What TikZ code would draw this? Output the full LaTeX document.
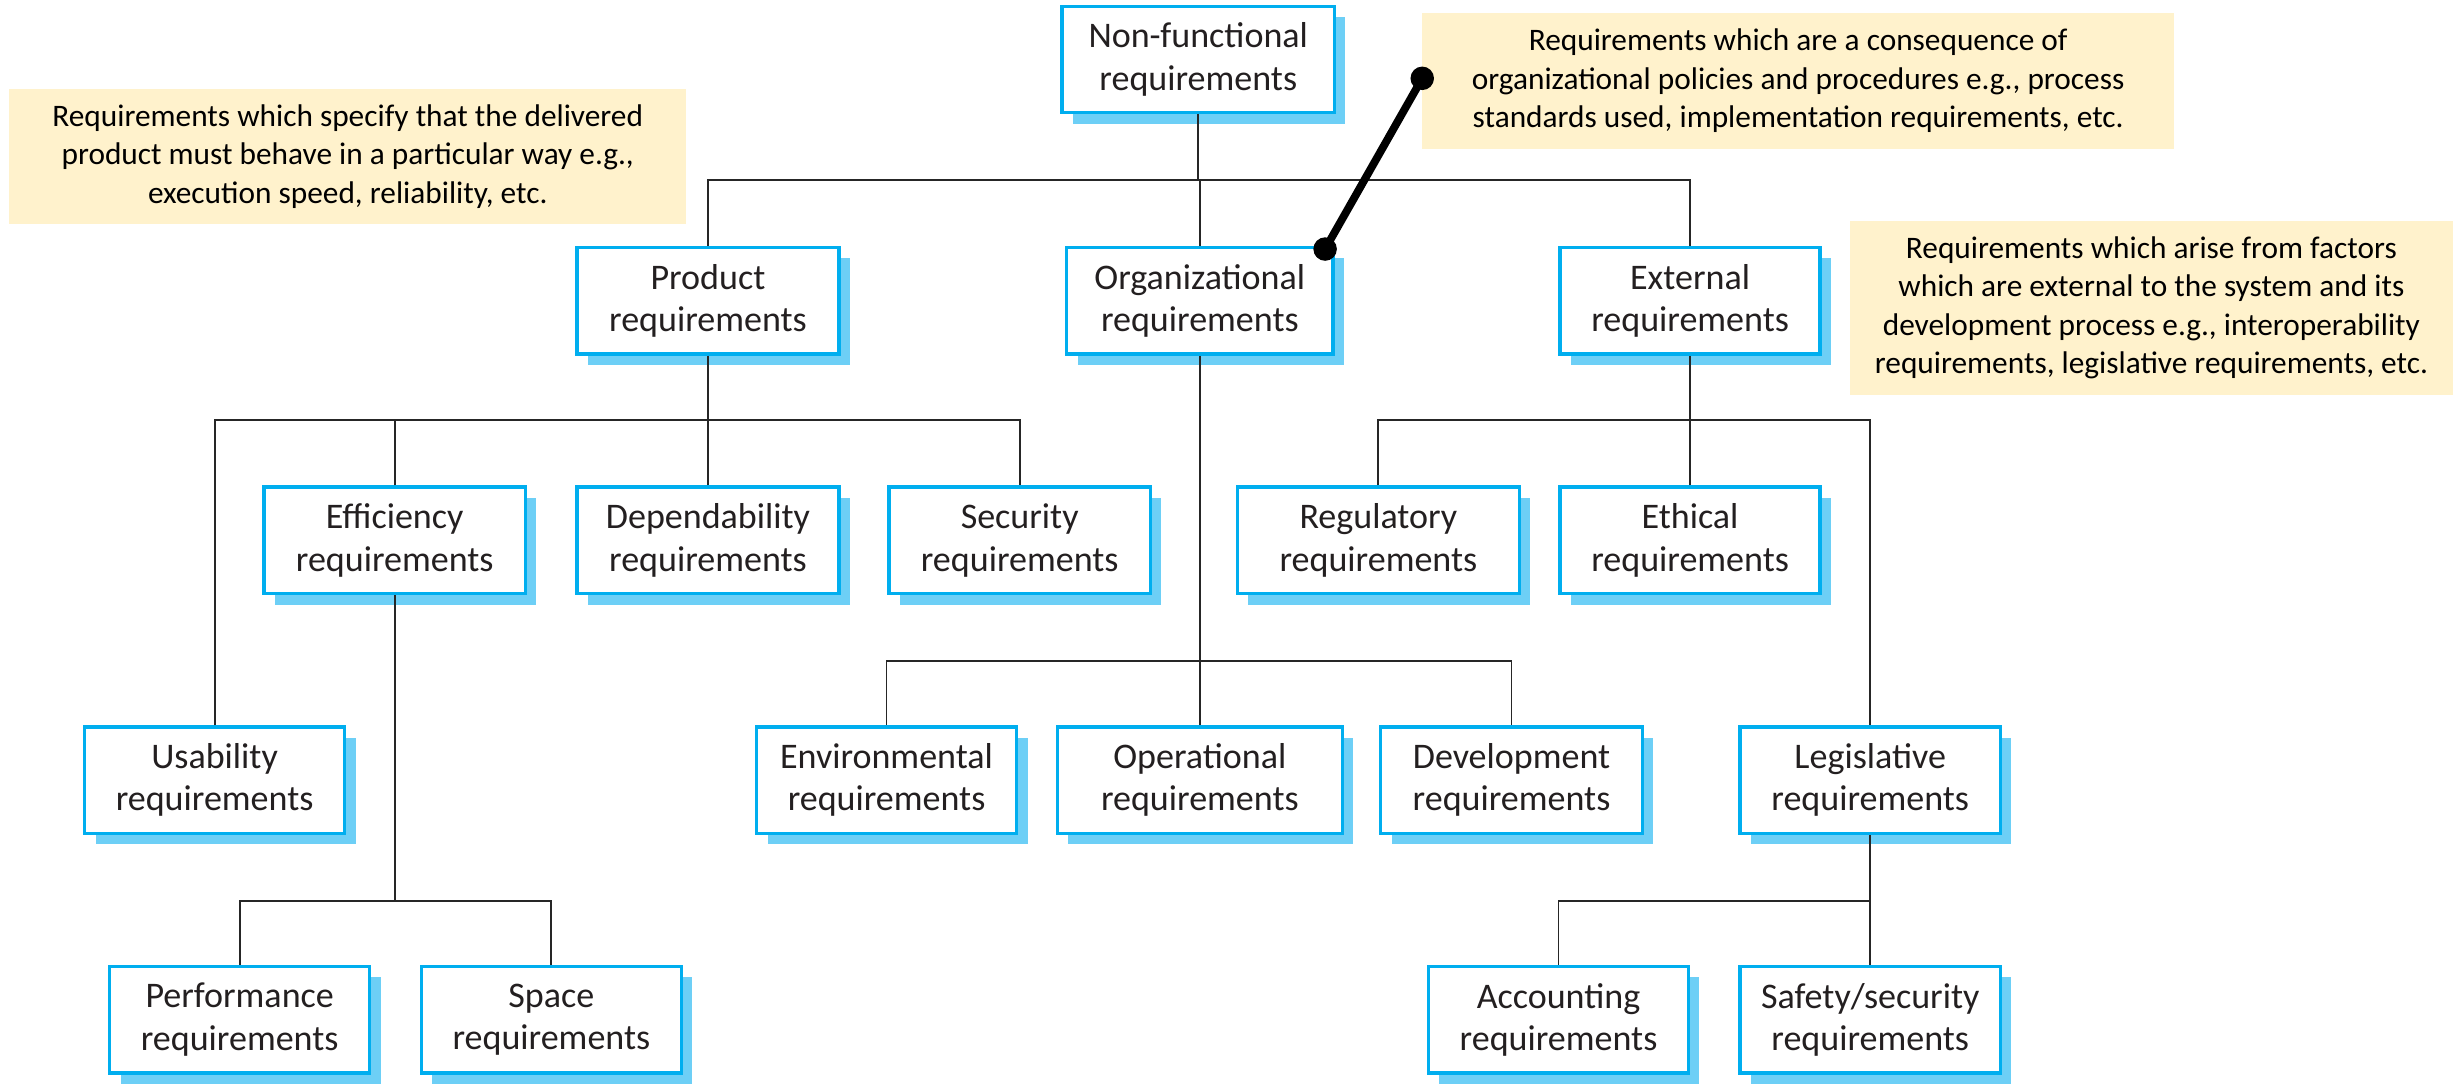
\documentclass[tikz,border=0pt]{standalone}
\usepackage{fontspec}
\setmainfont{Carlito}
\usetikzlibrary{shadows}
\definecolor{boxline}{HTML}{00AEEF}
\definecolor{boxshade}{HTML}{6DCFF6}
\definecolor{notefill}{HTML}{FFF2CC}
\definecolor{ink}{HTML}{231F20}
\begin{document}
\begin{tikzpicture}[x=1pt,y=-1pt,
  reqbox/.style={draw=boxline, line width=2.2pt, fill=white, text=ink,
    align=center, inner sep=0pt, minimum height=68pt,
    font=\fontsize{23}{27}\selectfont,
    general shadow={fill=boxshade, shadow xshift=7pt, shadow yshift=-7pt}},
  note/.style={fill=notefill, align=center, inner sep=0pt, text=black,
    font=\fontsize{20}{24.5}\selectfont},
  link/.style={draw=black!85, line width=1.2pt},
  pin/.style={draw=black, line width=5pt},
  pinhead/.style={fill=black, circle, inner sep=0pt, minimum size=15pt}]
\useasboundingbox (0,0) rectangle (1568,693);

% explanatory notes
\node[note, minimum width=432pt, minimum height=86pt] (nprod) at (222,100)
  {Requirements which specify that the delivered\\product must behave in a particular way e.g.,\\execution speed, reliability, etc.};
\node[note, minimum width=480pt, minimum height=87pt] (norg) at (1148,51.5)
  {Requirements which are a consequence of\\organizational policies and procedures e.g., process\\standards used, implementation requirements, etc.};
\node[note, minimum width=385pt, minimum height=111pt] (next) at (1373.5,196.5)
  {Requirements which arise from factors\\which are external to the system and its\\development process e.g., interoperability\\requirements, legislative requirements, etc.};

% requirement boxes
\node[reqbox, minimum width=174pt] (nf)   at (765,38)  {Non-functional\\requirements};
\node[reqbox, minimum width=167pt] (prod) at (452,192) {Product\\requirements};
\node[reqbox, minimum width=170pt] (org)  at (766,192) {Organizational\\requirements};
\node[reqbox, minimum width=166pt] (ext)  at (1079,192) {External\\requirements};

\node[reqbox, minimum width=167pt] (eff)  at (252,345) {Efficiency\\requirements};
\node[reqbox, minimum width=167pt] (dep)  at (452,345) {Dependability\\requirements};
\node[reqbox, minimum width=167pt] (sec)  at (651,345) {Security\\requirements};
\node[reqbox, minimum width=180pt] (reg)  at (880,345) {Regulatory\\requirements};
\node[reqbox, minimum width=166pt] (eth)  at (1079,345) {Ethical\\requirements};

\node[reqbox, minimum width=166pt] (usa)  at (137,498) {Usability\\requirements};
\node[reqbox, minimum width=166pt] (env)  at (566,498) {Environmental\\requirements};
\node[reqbox, minimum width=182pt] (ope)  at (766,498) {Operational\\requirements};
\node[reqbox, minimum width=167pt] (dev)  at (965,498) {Development\\requirements};
\node[reqbox, minimum width=166pt] (leg)  at (1194,498) {Legislative\\requirements};

\node[reqbox, minimum width=166pt] (per)  at (153,651) {Performance\\requirements};
\node[reqbox, minimum width=166pt] (spa)  at (352,651) {Space\\requirements};
\node[reqbox, minimum width=166pt] (acc)  at (995,651) {Accounting\\requirements};
\node[reqbox, minimum width=166pt] (saf)  at (1194,651) {Safety/security\\requirements};

% bus levels
\coordinate (b1) at (0,115);
\coordinate (b2) at (0,268);
\coordinate (b3) at (0,422);
\coordinate (b4) at (0,575);

% tree connectors
\draw[link] (nf.south) -- (nf.south |- b1);
\draw[link] (prod.north) -- (prod.north |- b1) -- (ext.north |- b1) -- (ext.north);
\draw[link] (org.north) -- (org.north |- b1);

\draw[link] (usa.north) -- (usa.north |- b2) -- (sec.north |- b2) -- (sec.north);
\draw[link] (prod.south) -- (prod.south |- b2);
\draw[link] (eff.north) -- (eff.north |- b2);
\draw[link] (dep.north) -- (dep.north |- b2);

\draw[link] (reg.north) -- (reg.north |- b2) -- (leg.north |- b2) -- (leg.north);
\draw[link] (ext.south) -- (ext.south |- b2);
\draw[link] (eth.north) -- (eth.north |- b2);

\draw[link] (env.north) -- (env.north |- b3) -- (dev.north |- b3) -- (dev.north);
\draw[link] (org.south) -- (org.south |- b3);
\draw[link] (ope.north) -- (ope.north |- b3);

\draw[link] (per.north) -- (per.north |- b4) -- (spa.north |- b4) -- (spa.north);
\draw[link] (eff.south) -- (eff.south |- b4);

\draw[link] (acc.north) -- (acc.north |- b4) -- (saf.north |- b4) -- (saf.north);
\draw[link] (leg.south) -- (leg.south |- b4);

% pin tying the organizational note to its box
\node[pinhead] (pa) at (908,50) {};
\node[pinhead] (pb) at (846,159) {};
\draw[pin] (pa.center) -- (pb.center);
\end{tikzpicture}
\end{document}
